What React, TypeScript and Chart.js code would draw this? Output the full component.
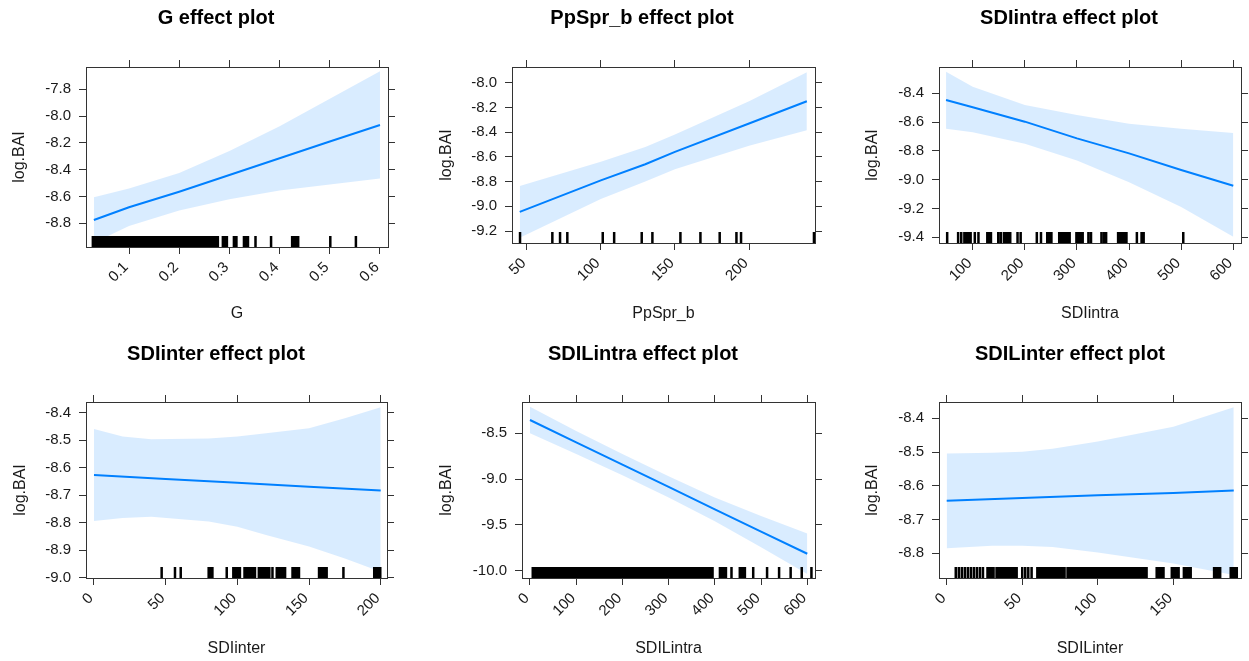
import React, { useEffect, useRef } from "react";
import { Chart, registerables } from "chart.js";

Chart.register(...registerables);

const FONT = "'Liberation Sans', Arial, Helvetica, sans-serif";
const TEXT = "#1a1a1a";
const FRAME = "#333333";
const LINE = "#0080ff";
const BAND = "rgba(0, 128, 255, 0.15)";
const Y_LABEL = "log.BAI";

// ---------------- G ----------------
const gXTicks = [0.1, 0.2, 0.3, 0.4, 0.5, 0.6];
const gXTickLabels = ["0.1", "0.2", "0.3", "0.4", "0.5", "0.6"];
const gYTicks = [-7.8, -8.0, -8.2, -8.4, -8.6, -8.8];
const gYTickLabels = ["-7.8", "-8.0", "-8.2", "-8.4", "-8.6", "-8.8"];
const gFitX = [0.03, 0.1, 0.2, 0.3, 0.4, 0.5, 0.6];
const gFit = [-8.775, -8.68, -8.564, -8.44, -8.315, -8.19, -8.066];
const gUpper = [-8.605, -8.54, -8.424, -8.26, -8.075, -7.87, -7.666];
const gLower = [-8.945, -8.82, -8.704, -8.62, -8.555, -8.51, -8.466];
const gRug = [
  0.028, 0.032, 0.036, 0.041, 0.045, 0.049, 0.054, 0.058, 0.062, 0.067, 0.071, 0.075, 0.08, 0.084,
  0.088, 0.093, 0.097, 0.101, 0.106, 0.11, 0.114, 0.119, 0.123, 0.127, 0.132, 0.136, 0.14, 0.145,
  0.149, 0.153, 0.158, 0.162, 0.166, 0.171, 0.175, 0.179, 0.184, 0.188, 0.192, 0.197, 0.201, 0.205,
  0.21, 0.214, 0.218, 0.223, 0.227, 0.231, 0.236, 0.24, 0.244, 0.249, 0.253, 0.257, 0.262, 0.266,
  0.27, 0.274, 0.277, 0.287, 0.291, 0.295, 0.309, 0.314, 0.329, 0.333, 0.337, 0.352, 0.383, 0.425,
  0.429, 0.433, 0.437, 0.501, 0.552,
];

// ---------------- PpSpr_b ----------------
const ppXTicks = [50, 100, 150, 200];
const ppXTickLabels = ["50", "100", "150", "200"];
const ppYTicks = [-8.0, -8.2, -8.4, -8.6, -8.8, -9.0, -9.2];
const ppYTickLabels = ["-8.0", "-8.2", "-8.4", "-8.6", "-8.8", "-9.0", "-9.2"];
const ppFitX = [45.3, 100, 130, 150, 200, 239];
const ppFit = [-9.045, -8.79, -8.66, -8.56, -8.33, -8.15];
const ppUpper = [-8.835, -8.64, -8.52, -8.42, -8.15, -7.915];
const ppLower = [-9.255, -8.94, -8.8, -8.7, -8.51, -8.385];
const ppRug = [45.5, 67.3, 72.5, 77.4, 101.3, 109, 127.6, 134.8, 153.7, 167.2, 180.2, 191.5, 194.6, 243.8];

// ---------------- SDIintra ----------------
const siXTicks = [100, 200, 300, 400, 500, 600];
const siXTickLabels = ["100", "200", "300", "400", "500", "600"];
const siYTicks = [-8.4, -8.6, -8.8, -9.0, -9.2, -9.4];
const siYTickLabels = ["-8.4", "-8.6", "-8.8", "-9.0", "-9.2", "-9.4"];
const siFitX = [48.8, 100, 200, 300, 400, 500, 600];
const siFit = [-8.446, -8.497, -8.597, -8.713, -8.817, -8.933, -9.042];
const siUpper = [-8.25, -8.354, -8.481, -8.55, -8.612, -8.647, -8.675];
const siLower = [-8.647, -8.67, -8.75, -8.866, -9.017, -9.19, -9.396];
const siRug = [
  51, 72, 78, 84, 88, 92, 96, 104, 111, 128, 131, 135, 149, 154, 160, 164, 168, 172, 186, 192, 223,
  231, 243, 247, 251, 266, 270, 274, 278, 282, 286, 299, 303, 307, 311, 322, 327, 347, 352, 356, 379,
  383, 387, 391, 395, 415, 424, 428, 504,
];

// ---------------- SDIinter ----------------
const sieXTicks = [0, 50, 100, 150, 200];
const sieXTickLabels = ["0", "50", "100", "150", "200"];
const sieYTicks = [-8.4, -8.5, -8.6, -8.7, -8.8, -8.9, -9.0];
const sieYTickLabels = ["-8.4", "-8.5", "-8.6", "-8.7", "-8.8", "-8.9", "-9.0"];
const sieFitX = [0, 50, 100, 150, 200];
const sieFit = [-8.627, -8.641, -8.655, -8.669, -8.683];
const sieBandX = [0, 20, 40, 80, 100, 120, 150, 175, 200];
const sieUpper = [-8.459, -8.487, -8.497, -8.494, -8.487, -8.475, -8.457, -8.42, -8.38];
const sieLower = [-8.794, -8.783, -8.778, -8.796, -8.815, -8.845, -8.887, -8.93, -8.978];
const sieRug = [
  47.2, 56.5, 60.5, 80, 81.5, 82.6, 92.6, 97.2, 98.7, 100.2, 101.8, 105, 106.5, 108, 109.5, 111,
  112.3, 115, 116.5, 118, 119.5, 121, 122.3, 124.5, 127.5, 129, 130.5, 132, 133.3, 138.5, 140, 141.5,
  143, 157, 158.5, 160, 161.5, 162.3, 174, 195.5, 197, 198.5, 199.7,
];

// ---------------- SDILintra ----------------
const slaXTicks = [0, 100, 200, 300, 400, 500, 600];
const slaXTickLabels = ["0", "100", "200", "300", "400", "500", "600"];
const slaYTicks = [-8.5, -9.0, -9.5, -10.0];
const slaYTickLabels = ["-8.5", "-9.0", "-9.5", "-10.0"];
const slaFitX = [0, 100, 200, 300, 400, 500, 600];
const slaFit = [-8.355, -8.6, -8.842, -9.085, -9.33, -9.573, -9.815];
const slaUpper = [-8.21, -8.475, -8.727, -8.97, -9.2, -9.403, -9.595];
const slaLower = [-8.5, -8.725, -8.957, -9.2, -9.46, -9.743, -10.035];
const slaRug = [
  6, 10, 15, 19, 24, 28, 33, 37, 42, 46, 51, 55, 60, 64, 69, 73, 78, 82, 87, 91, 96, 100, 105, 109,
  114, 118, 123, 127, 132, 136, 141, 145, 150, 154, 159, 163, 168, 172, 177, 181, 186, 190, 195, 199,
  204, 208, 213, 217, 222, 226, 231, 235, 240, 244, 249, 253, 258, 262, 267, 271, 276, 280, 285, 289,
  294, 298, 303, 307, 312, 316, 321, 325, 330, 334, 339, 343, 348, 352, 357, 361, 366, 370, 375, 378,
  383, 387, 391, 395, 411, 416, 420, 424, 436, 454, 458, 462, 465, 483, 513, 539, 564, 588, 609,
];

// ---------------- SDILinter ----------------
const sleXTicks = [0, 50, 100, 150];
const sleXTickLabels = ["0", "50", "100", "150"];
const sleYTicks = [-8.4, -8.5, -8.6, -8.7, -8.8];
const sleYTickLabels = ["-8.4", "-8.5", "-8.6", "-8.7", "-8.8"];
const sleFitX = [0, 50, 100, 150, 190];
const sleFit = [-8.644, -8.636, -8.628, -8.621, -8.614];
const sleBandX = [0, 30, 50, 70, 100, 150, 190];
const sleUpper = [-8.504, -8.502, -8.499, -8.49, -8.469, -8.425, -8.367];
const sleLower = [-8.785, -8.778, -8.778, -8.781, -8.798, -8.83, -8.864];
const sleRug = [
  6, 8, 10, 12, 14, 16, 18, 20, 22, 24, 27, 28.5, 30, 31, 33, 34.5, 36, 37.5, 39, 40.5, 42, 43.5, 45,
  46.3, 50, 52, 54, 56.2, 60, 61.5, 63, 64.5, 66, 67.5, 69, 70.5, 72, 73.5, 75, 76.5, 78, 80, 81.5, 83,
  84.5, 86, 87.5, 89, 90.5, 92, 93.5, 95, 96.5, 98, 99.5, 101, 102.5, 104, 105.5, 107, 108.5, 110,
  111.5, 113, 114.5, 116, 117.5, 119, 120.5, 122, 123.5, 125, 126.5, 128, 129.5, 131, 132.3, 139,
  140.5, 142, 143.5, 149, 150.5, 152, 153.5, 157, 158.5, 160, 161.5, 177, 178.5, 180, 181, 188, 189.5,
  191, 192,
];

type Frame = {
  left: number; top: number; width: number; height: number;
  boxL: number; boxR: number; boxT: number; boxB: number;
  titleMid: number; xTitleMid: number;
};

type PanelDef = {
  title: string; xLabel: string;
  xMin: number; xMax: number; yMin: number; yMax: number;
  xTicks: number[]; xTickLabels: string[]; yTicks: number[]; yTickLabels: string[];
  fitX: number[]; fit: number[]; bandX: number[]; upper: number[]; lower: number[]; rug: number[];
  frame: Frame;
};

const panels: PanelDef[] = [
  {
    title: "G effect plot", xLabel: "G",
    xMin: 0.01434, xMax: 0.61594, yMin: -8.9769, yMax: -7.6336,
    xTicks: gXTicks, xTickLabels: gXTickLabels, yTicks: gYTicks, yTickLabels: gYTickLabels,
    fitX: gFitX, fit: gFit, bandX: gFitX, upper: gUpper, lower: gLower, rug: gRug,
    frame: { left: 0, top: 0, width: 432, height: 330, boxL: 86, boxR: 388, boxT: 67, boxB: 247, titleMid: 18.7, xTitleMid: 314 },
  },
  {
    title: "PpSpr_b effect plot", xLabel: "PpSpr_b",
    xMin: 40.08, xMax: 244.5, yMin: -9.297, yMax: -7.873,
    xTicks: ppXTicks, xTickLabels: ppXTickLabels, yTicks: ppYTicks, yTickLabels: ppYTickLabels,
    fitX: ppFitX, fit: ppFit, bandX: ppFitX, upper: ppUpper, lower: ppLower, rug: ppRug,
    frame: { left: 427, top: 0, width: 430, height: 330, boxL: 512, boxR: 815, boxT: 67, boxB: 243, titleMid: 18.7, xTitleMid: 314 },
  },
  {
    title: "SDIintra effect plot", xLabel: "SDIintra",
    xMin: 35.3, xMax: 614.8, yMin: -9.4396, yMax: -8.2174,
    xTicks: siXTicks, xTickLabels: siXTickLabels, yTicks: siYTicks, yTickLabels: siYTickLabels,
    fitX: siFitX, fit: siFit, bandX: siFitX, upper: siUpper, lower: siLower, rug: siRug,
    frame: { left: 853, top: 0, width: 432, height: 330, boxL: 939, boxR: 1241, boxT: 67, boxB: 243, titleMid: 18.7, xTitleMid: 314 },
  },
  {
    title: "SDIinter effect plot", xLabel: "SDIinter",
    xMin: -5.58, xMax: 204.4, yMin: -9.0011, yMax: -8.3611,
    xTicks: sieXTicks, xTickLabels: sieXTickLabels, yTicks: sieYTicks, yTickLabels: sieYTickLabels,
    fitX: sieFitX, fit: sieFit, bandX: sieBandX, upper: sieUpper, lower: sieLower, rug: sieRug,
    frame: { left: 1, top: 330, width: 430, height: 331, boxL: 86, boxR: 387, boxT: 402, boxB: 578, titleMid: 354.5, xTitleMid: 649 },
  },
  {
    title: "SDILintra effect plot", xLabel: "SDILintra",
    xMin: -17.3, xMax: 616.7, yMin: -10.0797, yMax: -8.1583,
    xTicks: slaXTicks, xTickLabels: slaXTickLabels, yTicks: slaYTicks, yTickLabels: slaYTickLabels,
    fitX: slaFitX, fit: slaFit, bandX: slaFitX, upper: slaUpper, lower: slaLower, rug: slaRug,
    frame: { left: 427, top: 330, width: 432, height: 331, boxL: 522, boxR: 815, boxT: 402, boxB: 578, titleMid: 354.5, xTitleMid: 649 },
  },
  {
    title: "SDILinter effect plot", xLabel: "SDILinter",
    xMin: -5.1, xMax: 194.8, yMin: -8.8732, yMax: -8.3517,
    xTicks: sleXTicks, xTickLabels: sleXTickLabels, yTicks: sleYTicks, yTickLabels: sleYTickLabels,
    fitX: sleFitX, fit: sleFit, bandX: sleBandX, upper: sleUpper, lower: sleLower, rug: sleRug,
    frame: { left: 853, top: 330, width: 434, height: 331, boxL: 939, boxR: 1241, boxT: 402, boxB: 578, titleMid: 354.5, xTitleMid: 649 },
  },
];

const rugPlugin = {
  id: "rug",
  afterDatasetsDraw(chart: any, _args: any, opts: any) {
    const values: number[] = opts.values || [];
    const { ctx, chartArea } = chart;
    const xs = chart.scales.x;
    ctx.save();
    ctx.beginPath();
    ctx.rect(chartArea.left, chartArea.top, chartArea.right - chartArea.left, chartArea.bottom - chartArea.top);
    ctx.clip();
    ctx.strokeStyle = opts.color || "#000";
    ctx.lineWidth = opts.width || 2.5;
    ctx.beginPath();
    for (const v of values) {
      const px = xs.getPixelForValue(v);
      ctx.moveTo(px, chartArea.bottom);
      ctx.lineTo(px, chartArea.bottom - (opts.length || 11));
    }
    ctx.stroke();
    ctx.restore();
  },
};

const zip = (xs: number[], ys: number[]) => xs.map((x, i) => ({ x, y: ys[i] }));

function Panel({ p }: { p: PanelDef }) {
  const ref = useRef<HTMLCanvasElement>(null);
  const f = p.frame;

  useEffect(() => {
    if (!ref.current) return;
    const titleLine = 24; // 20px * 1.2
    const titlePadTop = f.titleMid - f.top - titleLine / 2;
    const titlePadBottom = 6;
    const titleH = titlePadTop + titleLine + titlePadBottom;
    const leftW = f.boxL - f.left;
    const rightW = f.left + f.width - f.boxR;
    const topH = f.boxT - f.top - titleH;
    const bottomH = f.top + f.height - f.boxB;
    const axisTitleLine = 19.2; // 16px * 1.2
    const xTitlePadBottom = f.top + f.height - f.xTitleMid - axisTitleLine / 2;
    const yTitlePadTop = 20 - axisTitleLine / 2;

    const grid = { display: true, drawOnChartArea: false, drawTicks: true, tickLength: 7, color: FRAME, lineWidth: 1 };
    const border = { display: true, color: FRAME, width: 1 };
    const tickFont = { family: FONT, size: 15 };
    const setTicks = (vals: number[]) => (s: any) => {
      s.ticks = vals.map((v) => ({ value: v }));
    };

    const chart = new Chart(ref.current, {
      type: "line",
      data: {
        datasets: [
          {
            data: zip(p.bandX, p.upper),
            borderWidth: 0,
            borderColor: "rgba(0,0,0,0)",
            backgroundColor: BAND,
            pointRadius: 0,
            fill: "+1",
          },
          {
            data: zip(p.bandX, p.lower),
            borderWidth: 0,
            borderColor: "rgba(0,0,0,0)",
            pointRadius: 0,
            fill: false,
          },
          {
            data: zip(p.fitX, p.fit),
            borderWidth: 2,
            borderColor: LINE,
            pointRadius: 0,
            fill: false,
          },
        ],
      },
      options: {
        animation: false,
        responsive: false,
        maintainAspectRatio: false,
        devicePixelRatio: 1,
        events: [],
        layout: { padding: 0 },
        plugins: {
          legend: { display: false },
          tooltip: { enabled: false },
          title: {
            display: true,
            text: p.title,
            color: "#000",
            font: { family: FONT, size: 20, weight: "bold" },
            padding: { top: titlePadTop, bottom: titlePadBottom },
          },
          rug: { values: p.rug, color: "#000", width: 2.5, length: 11 },
        } as any,
        scales: {
          x: {
            type: "linear",
            position: "bottom",
            min: p.xMin,
            max: p.xMax,
            afterBuildTicks: setTicks(p.xTicks),
            afterFit: (s: any) => { s.height = bottomH; },
            grid,
            border,
            ticks: {
              autoSkip: false,
              minRotation: 45,
              maxRotation: 45,
              padding: 4.5,
              labelOffset: -3,
              font: tickFont,
              color: TEXT,
              callback: (_v: any, i: number) => p.xTickLabels[i],
            },
            title: {
              display: true,
              text: p.xLabel,
              color: TEXT,
              font: { family: FONT, size: 16 },
              padding: { top: 0, bottom: xTitlePadBottom },
            },
          },
          x2: {
            type: "linear",
            position: "top",
            min: p.xMin,
            max: p.xMax,
            afterBuildTicks: setTicks(p.xTicks),
            afterFit: (s: any) => { s.height = topH; },
            grid,
            border,
            ticks: { display: false },
          },
          y: {
            type: "linear",
            position: "left",
            min: p.yMin,
            max: p.yMax,
            afterBuildTicks: setTicks(p.yTicks),
            afterFit: (s: any) => { s.width = leftW; },
            grid,
            border,
            ticks: {
              autoSkip: false,
              padding: 8,
              font: tickFont,
              color: TEXT,
              callback: (_v: any, i: number) => p.yTickLabels[i],
            },
            title: {
              display: true,
              text: Y_LABEL,
              color: TEXT,
              font: { family: FONT, size: 16 },
              padding: { top: yTitlePadTop, bottom: 0 },
            },
          },
          y2: {
            type: "linear",
            position: "right",
            min: p.yMin,
            max: p.yMax,
            afterBuildTicks: setTicks(p.yTicks),
            afterFit: (s: any) => { s.width = rightW; },
            grid,
            border,
            ticks: { display: false },
          },
        } as any,
      },
      plugins: [rugPlugin as any],
    });
    return () => chart.destroy();
  }, [p]);

  return (
    <canvas
      ref={ref}
      width={f.width}
      height={f.height}
      style={{ position: "absolute", left: f.left, top: f.top, width: f.width, height: f.height, display: "block" }}
    />
  );
}

export default function App() {
  return (
    <div
      style={{
        position: "absolute",
        left: 0,
        top: 0,
        width: 1249,
        height: 661,
        overflow: "hidden",
        background: "#ffffff",
      }}
    >
      {panels.map((p, i) => (
        <Panel key={i} p={p} />
      ))}
    </div>
  );
}
